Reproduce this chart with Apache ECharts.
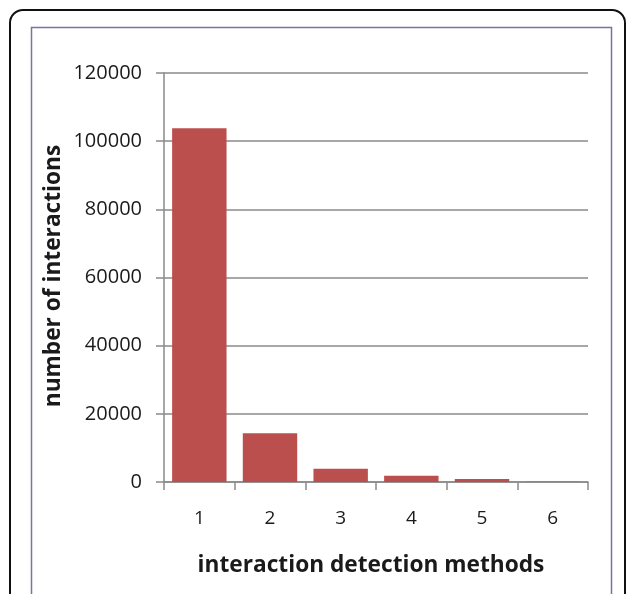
<!DOCTYPE html>
<html><head><meta charset="utf-8">
<script src="https://cdn.jsdelivr.net/npm/echarts@6/dist/echarts.min.js"></script>
<style>html,body{margin:0;padding:0;background:#fff}#c{width:627px;height:594px}</style>
</head><body><div id="c"></div>
<script>
var categories = ['1','2','3','4','5','6'];
var interactions = [103800, 14300, 3900, 1850, 900, 60];
var yTicks = {min:0, max:120000, interval:20000};
var xTitle = 'interaction detection methods';
var yTitle = 'number of interactions';

var chart = echarts.init(document.getElementById('c'));
var font = '"Open Sans", sans-serif';
chart.setOption({
  animation:false,
  grid:{left:164, right:39, top:73, bottom:112},
  graphic:[
    {type:'rect', shape:{x:10, y:10, width:615, height:640, r:13}, style:{fill:'none', stroke:'#111', lineWidth:2}, z:-1},
    {type:'rect', shape:{x:31.5, y:27.5, width:580, height:620}, style:{fill:'none', stroke:'#7474a8', lineWidth:1.5}, z:-1},
    {type:'text', x:371, y:566, style:{text:xTitle, font:'bold 22.7px '+font, fill:'#1a1a1a', textAlign:'center', textVerticalAlign:'middle'}},
    {type:'text', x:54, y:276, rotation:Math.PI/2, style:{text:yTitle, font:'bold 22.7px '+font, fill:'#1a1a1a', textAlign:'center', textVerticalAlign:'middle'}}
  ],
  xAxis:{type:'category', data:categories, boundaryGap:true,
    axisLine:{lineStyle:{color:'#8a8a8a', width:1.5}},
    axisTick:{show:true, length:8, alignWithLabel:false, lineStyle:{color:'#8a8a8a', width:1.5}},
    axisLabel:{margin:27, fontSize:19, color:'#1a1a1a', fontFamily:font}},
  yAxis:{type:'value', min:yTicks.min, max:yTicks.max, interval:yTicks.interval,
    axisLine:{show:true, lineStyle:{color:'#8a8a8a', width:1.5}},
    axisTick:{show:true, length:8, lineStyle:{color:'#8a8a8a', width:1.5}},
    splitLine:{lineStyle:{color:'#8a8a8a', width:1.5}},
    axisLabel:{margin:22, fontSize:20, color:'#1a1a1a', fontFamily:font, formatter:function(v){return String(v);}}},
  series:[{type:'bar', data:interactions, barCategoryGap:'23%',
    itemStyle:{color:'#bb4f4d'}}]
});
</script></body></html>
